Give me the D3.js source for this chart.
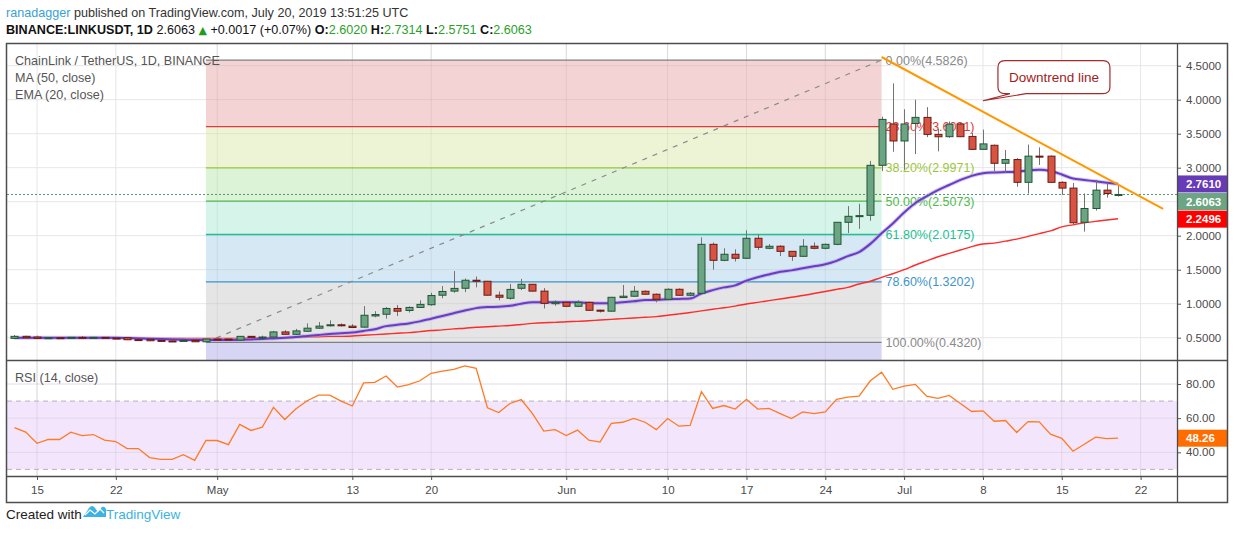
<!DOCTYPE html>
<html><head><meta charset="utf-8">
<script src="https://cdn.jsdelivr.net/npm/d3@7/dist/d3.min.js"></script>
<style>
body{margin:0;background:#fff}
svg{display:block}
text{font-family:"Liberation Sans",Arial,sans-serif}
</style>
</head><body>
<svg id="chart" width="1234" height="540"></svg>
<script>
// ---------------- DATA ----------------
const firstDay = "2019-04-13";
const opens = [
 0.49,0.52,0.51,0.49,0.50,0.495,0.505,0.495,0.505,0.495,0.50,0.472,0.475,0.46,0.452,0.45,0.46,0.44,
 0.48,0.48,0.465,0.52,0.505,0.51,0.585,0.55,0.595,0.64,0.675,0.69,0.67,0.655,0.82,0.845,0.93,0.90,0.945,0.985,1.125,1.185,1.227,1.345,1.33,1.125,1.08,1.227,1.285,1.185,1.0,
 1.02,0.962,1.02,0.905,0.89,1.09,1.11,1.183,1.139,1.065,1.212,1.124,1.153,1.873,1.638,1.727,1.668,1.962,1.815,1.845,1.77,1.697,1.845,1.815,1.873,2.197,2.285,2.30,3.035,3.643,
 3.393,3.65,3.74,3.49,3.456,3.643,3.46,3.27,3.33,3.065,3.12,2.785,3.17,3.17,2.785,2.70,2.197,2.40,2.67,2.602
];
const highs = [
 0.54,0.53,0.53,0.51,0.51,0.51,0.525,0.51,0.51,0.50,0.505,0.48,0.485,0.47,0.46,0.465,0.465,0.485,
 0.485,0.485,0.525,0.525,0.53,0.60,0.61,0.63,0.71,0.73,0.755,0.71,0.70,0.965,0.89,0.95,0.98,0.96,1.05,1.16,1.26,1.48,1.37,1.40,1.335,1.18,1.29,1.365,1.29,1.23,1.05,
 1.03,1.05,1.03,0.91,1.10,1.275,1.26,1.195,1.15,1.225,1.225,1.17,1.976,1.90,1.815,1.80,2.08,2.02,1.875,1.86,1.775,1.95,1.90,1.885,2.20,2.435,2.47,3.10,3.75,4.24,
 3.86,4.00,3.89,3.57,3.68,3.66,3.51,3.56,3.34,3.26,3.14,3.34,3.30,3.18,2.80,2.775,2.62,2.82,2.77,2.7314
];
const lows = [
 0.48,0.50,0.48,0.48,0.49,0.49,0.49,0.49,0.49,0.49,0.465,0.455,0.45,0.445,0.445,0.445,0.435,0.432,
 0.47,0.46,0.46,0.50,0.495,0.50,0.545,0.54,0.585,0.63,0.665,0.665,0.645,0.65,0.80,0.78,0.82,0.87,0.94,0.97,1.08,1.16,1.17,1.24,1.12,1.05,1.06,1.20,1.18,0.93,0.97,
 0.95,0.95,0.90,0.87,0.885,1.085,1.10,1.13,1.02,1.06,1.12,1.11,1.14,1.50,1.625,1.62,1.66,1.79,1.80,1.70,1.63,1.69,1.80,1.80,1.86,2.04,2.10,2.22,2.95,3.235,
 2.97,3.20,3.45,3.24,3.44,3.45,3.26,3.26,2.95,2.92,2.72,2.62,3.04,2.78,2.60,2.16,2.06,2.37,2.56,2.5751
];
const closes = [
 0.52,0.50,0.49,0.50,0.495,0.505,0.495,0.505,0.495,0.492,0.47,0.468,0.455,0.45,0.45,0.46,0.44,0.48,
 0.475,0.465,0.52,0.505,0.51,0.585,0.55,0.60,0.64,0.67,0.69,0.675,0.65,0.83,0.84,0.93,0.89,0.945,0.99,1.12,1.18,1.225,1.345,1.33,1.125,1.095,1.21,1.285,1.185,1.005,1.02,
 0.962,1.02,0.903,0.89,1.094,1.11,1.183,1.139,1.065,1.212,1.124,1.154,1.873,1.638,1.727,1.668,1.962,1.83,1.845,1.77,1.697,1.845,1.815,1.873,2.197,2.285,2.295,3.035,3.71,3.393,
 3.643,3.74,3.49,3.455,3.64,3.456,3.27,3.35,3.065,3.12,2.785,3.17,3.165,2.785,2.70,2.19,2.40,2.67,2.62,2.6063
];
const ema20 = [
 0.50,0.50,0.50,0.50,0.50,0.50,0.50,0.50,0.50,0.50,0.495,0.49,0.485,0.48,0.475,0.47,0.465,0.465,
 0.465,0.465,0.47,0.475,0.48,0.49,0.50,0.51,0.525,0.54,0.555,0.565,0.575,0.60,0.625,0.67,0.69,0.71,0.74,0.78,0.82,0.86,0.90,0.935,0.95,0.955,0.97,1.0,1.02,1.02,1.02,
 1.02,1.02,1.01,1.005,1.01,1.02,1.035,1.055,1.055,1.065,1.07,1.075,1.15,1.20,1.24,1.27,1.34,1.39,1.43,1.47,1.49,1.52,1.55,1.58,1.63,1.70,1.76,1.88,2.035,2.18,
 2.34,2.48,2.58,2.67,2.746,2.82,2.88,2.918,2.93,2.935,2.94,2.96,2.97,2.95,2.90,2.84,2.82,2.80,2.78,2.761
];
const ma50 = [
 0.50,0.50,0.50,0.50,0.50,0.50,0.50,0.50,0.50,0.495,0.495,0.495,0.49,0.49,0.49,0.49,0.49,0.49,
 0.49,0.49,0.49,0.495,0.495,0.50,0.50,0.505,0.51,0.515,0.52,0.52,0.525,0.535,0.545,0.555,0.565,0.575,0.59,0.605,0.615,0.63,0.64,0.653,0.66,0.67,0.68,0.695,0.71,0.72,0.725,
 0.735,0.74,0.75,0.76,0.77,0.78,0.79,0.80,0.81,0.83,0.85,0.87,0.895,0.918,0.94,0.965,0.996,1.02,1.045,1.07,1.094,1.12,1.15,1.18,1.21,1.24,1.29,1.33,1.388,1.44,
 1.50,1.569,1.63,1.69,1.74,1.79,1.84,1.878,1.89,1.92,1.95,1.99,2.03,2.07,2.13,2.16,2.19,2.21,2.23,2.2496
];
const rsi14 = [
 54.5,51.8,45.3,47.5,47.5,51.8,49.8,50.4,47.1,46.3,42.2,42.2,36.9,35.9,35.9,38.6,35.3,46.9,
 46.9,44.5,56.3,52.8,54.7,66.3,59.2,65.5,70.2,73.5,73.5,70.0,67.1,80.6,81.0,84.7,78.2,79.7,81.9,86.3,87.6,88.6,90.6,89.2,66.1,63.3,68.6,70.9,62.7,52.4,53.3,
 49.8,53.0,47.1,46.0,56.9,57.6,59.8,57.6,53.3,59.8,55.3,55.7,75.5,65.7,67.4,65.3,71.0,65.3,65.7,62.7,59.8,63.7,62.7,63.7,71.0,72.3,72.9,81.9,86.9,76.9,
 78.8,79.8,72.9,71.6,73.3,68.6,63.9,64.3,58.2,58.6,51.6,58.0,57.8,50.6,48.2,40.6,44.7,48.9,48.0,48.26
];
const dateTickDays = ["2019-04-15","2019-04-22","2019-05-01","2019-05-13","2019-05-20","2019-06-01","2019-06-10","2019-06-17","2019-06-24","2019-07-01","2019-07-08","2019-07-15","2019-07-22"];
const dateTickLabels = ["15","22","May","13","20","Jun","10","17","24","Jul","8","15","22"];
const priceTicks = [0.5,1.0,1.5,2.0,2.5,3.0,3.5,4.0,4.5];
const rsiTicks = [40,60,80];
const rsiBands = [30,70];
const fibHigh = 4.5826, fibLow = 0.4320;
const fibLevels = [0,0.236,0.382,0.5,0.618,0.786,1];
const fibStartDay = "2019-04-30", fibEndDay = "2019-06-29";
const trendLine = [{day:"2019-06-29", v:4.628},{day:"2019-07-24", v:2.393}];
const calloutTip = {day:"2019-07-08", v:3.985};
const lastPrice = 2.6063;

// ---------------- SETUP ----------------
const svg = d3.select("#chart");
const parse = d3.utcParse("%Y-%m-%d");
const d0 = parse(firstDay);
const dates = closes.map((_,i)=>d3.utcDay.offset(d0,i));
const L = 7, R = 1177, PT = 44, PB = 360, RT = 361, RB = 476;

const x = d3.scaleUtc().domain([parse("2019-04-15"), parse("2019-07-22")]).range([37, 1140.6]);
const y = d3.scaleLinear().domain([0.5,4.5]).range([337.7,65.7]);
const yr = d3.scaleLinear().domain([40,80]).range([452.3,384]);

const defs = svg.append("defs");
defs.append("clipPath").attr("id","cp").append("rect").attr("x",L).attr("y",PT).attr("width",R-L).attr("height",PB-PT);
defs.append("clipPath").attr("id","cr").append("rect").attr("x",L).attr("y",RT).attr("width",R-L).attr("height",RB-RT);

// header
const h1 = svg.append("text").attr("x",6).attr("y",17).attr("font-size",12.6).attr("fill","#333");
h1.append("tspan").attr("fill","#3a9fd8").text("ranadagger");
h1.append("tspan").text(" published on TradingView.com, July 20, 2019 13:51:25 UTC");
const h2 = svg.append("text").attr("x",6).attr("y",34).attr("font-size",12.6).attr("fill","#111");
h2.append("tspan").attr("font-weight","bold").text("BINANCE:LINKUSDT, 1D");
h2.append("tspan").text("  2.6063 ");
h2.append("tspan").attr("fill","#1e9e1e").style("font-family","DejaVu Sans").attr("font-size",11).text("▲");
h2.append("tspan").text(" +0.0017 (+0.07%) ");
[["O:","2.6020"],["H:","2.7314"],["L:","2.5751"],["C:","2.6063"]].forEach(([k,v],i)=>{
  h2.append("tspan").attr("font-weight","bold").text((i?" ":"")+k);
  h2.append("tspan").attr("fill","#2aa02a").text(v);
});

// grid
svg.append("g").selectAll("line").data(priceTicks).join("line")
  .attr("x1",L).attr("x2",R).attr("y1",d=>y(d)).attr("y2",d=>y(d)).attr("stroke","#e6e6e6");
const tickDates = dateTickDays.map(parse);
svg.append("g").selectAll("line").data(tickDates).join("line")
  .attr("x1",d=>x(d)).attr("x2",d=>x(d)).attr("y1",PT).attr("y2",RB).attr("stroke","#e6e6e6");

// ---------------- FIB ----------------
const gF = svg.append("g").attr("clip-path","url(#cp)");
const fx0 = x(parse(fibStartDay)), fx1 = x(parse(fibEndDay));
const fibPrice = l => fibHigh - l*(fibHigh-fibLow);
const fibLineCol = ["#808080","#e0393e","#9cc73c","#4cbb4c","#22bf92","#3d93cc","#808080"];
const fibFill = ["#f3d3d3","#edf4d6","#dcf3d8","#d6f4e9","#d5e8f4","#e5e5e5","#d7d5f4"];
const zones = fibLevels.map((l,i)=>[fibPrice(l), i<fibLevels.length-1 ? fibPrice(fibLevels[i+1]) : -1]);
gF.selectAll("rect").data(zones).join("rect")
  .attr("x",fx0).attr("width",fx1-fx0)
  .attr("y",d=>y(d[0])).attr("height",d=>y(d[1])-y(d[0]))
  .attr("fill",(d,i)=>fibFill[i]);
gF.selectAll("line.gh").data(priceTicks).join("line").attr("class","gh")
  .attr("x1",fx0).attr("x2",fx1).attr("y1",d=>y(d)).attr("y2",d=>y(d)).attr("stroke","rgba(0,0,0,0.06)");
gF.selectAll("line.gv").data(tickDates.filter(d=>x(d)>fx0&&x(d)<fx1)).join("line").attr("class","gv")
  .attr("x1",d=>x(d)).attr("x2",d=>x(d)).attr("y1",PT).attr("y2",PB).attr("stroke","rgba(0,0,0,0.06)");
gF.selectAll("line.fl").data(fibLevels).join("line").attr("class","fl")
  .attr("x1",fx0).attr("x2",fx1).attr("y1",l=>y(fibPrice(l))).attr("y2",l=>y(fibPrice(l)))
  .attr("stroke",(l,i)=>fibLineCol[i]).attr("stroke-width",1.3);
gF.append("line").attr("x1",fx0).attr("y1",y(fibLow)).attr("x2",fx1).attr("y2",y(fibHigh))
  .attr("stroke","#8a8a8a").attr("stroke-width",1.2).attr("stroke-dasharray","5,6");
const fibTextCol = ["#8a8a8a","#e0393e","#9cc73c","#4cbb4c","#22bf92","#3d93cc","#8a8a8a"];
gF.selectAll("text").data(fibLevels).join("text")
  .attr("x",fx1+4).attr("y",l=>y(fibPrice(l))+4.5).attr("font-size",12.5)
  .attr("fill",(l,i)=>fibTextCol[i])
  .text(l=>`${(l*100).toFixed(2)}%(${fibPrice(l).toFixed(4)})`);

// ---------------- MA lines ----------------
const gM = svg.append("g").attr("clip-path","url(#cp)");
const line = arr => d3.line().x((d,i)=>x(dates[i])).y(d=>y(d)).curve(d3.curveMonotoneX)(arr);
gM.append("path").attr("d",line(ma50)).attr("fill","none").attr("stroke","#ff2a2a").attr("stroke-width",1.4);
gM.append("path").attr("d",line(ema20)).attr("fill","none").attr("stroke","#b6a3ea").attr("stroke-width",4).attr("opacity",0.6);
gM.append("path").attr("d",line(ema20)).attr("fill","none").attr("stroke","#6a3cc0").attr("stroke-width",2);
gM.append("line").attr("x1",L).attr("x2",R).attr("y1",y(lastPrice)).attr("y2",y(lastPrice))
  .attr("stroke","#4f9a6e").attr("stroke-dasharray","2,2").attr("stroke-width",1);

// ---------------- CANDLES ----------------
const gC = svg.append("g").attr("clip-path","url(#cp)");
const idx = d3.range(closes.length);
gC.selectAll("line").data(idx).join("line")
  .attr("x1",i=>Math.round(x(dates[i]))+0.5).attr("x2",i=>Math.round(x(dates[i]))+0.5)
  .attr("y1",i=>y(highs[i])).attr("y2",i=>y(lows[i])).attr("stroke","#737375").attr("stroke-width",1);
const bw = 7;
gC.selectAll("rect").data(idx).join("rect")
  .attr("x",i=>Math.round(x(dates[i]))+0.5-bw/2).attr("width",bw)
  .attr("y",i=>y(Math.max(opens[i],closes[i])))
  .attr("height",i=>Math.max(1,Math.abs(y(opens[i])-y(closes[i]))))
  .attr("fill",i=>closes[i]>=opens[i]?"#6ba583":"#d75442")
  .attr("stroke",i=>closes[i]>=opens[i]?"#225437":"#6b1a13").attr("stroke-width",1);

// ---------------- TREND LINE + CALLOUT ----------------
svg.append("line").attr("clip-path","url(#cp)")
  .attr("x1",x(parse(trendLine[0].day))).attr("y1",y(trendLine[0].v))
  .attr("x2",x(parse(trendLine[1].day))).attr("y2",y(trendLine[1].v))
  .attr("stroke","#ff9800").attr("stroke-width",2);
const tx = x(parse(calloutTip.day)), ty = y(calloutTip.v);
const bx0 = tx+15, by0 = ty-40, bwid = 112, bh = 33, r = 7;
const cp = `M${bx0+r},${by0} H${bx0+bwid-r} Q${bx0+bwid},${by0} ${bx0+bwid},${by0+r} V${by0+bh-r} Q${bx0+bwid},${by0+bh} ${bx0+bwid-r},${by0+bh} H${bx0+28} L${tx},${ty} L${bx0+12},${by0+bh} H${bx0+r} Q${bx0},${by0+bh} ${bx0},${by0+bh-r} V${by0+r} Q${bx0},${by0} ${bx0+r},${by0} Z`;
svg.append("path").attr("d",cp).attr("fill","#fff").attr("stroke","#a52a2a").attr("stroke-width",1.2);
svg.append("text").attr("x",bx0+bwid/2).attr("y",by0+bh/2+5).attr("text-anchor","middle")
  .attr("font-size",13.5).attr("fill","#a01c22").text("Downtrend line");

// legend
const lg = svg.append("g").attr("font-size",12.6).attr("fill","#555");
lg.append("text").attr("x",15).attr("y",65).text("ChainLink / TetherUS, 1D, BINANCE");
lg.append("text").attr("x",15).attr("y",82).text("MA (50, close)");
lg.append("text").attr("x",15).attr("y",99).text("EMA (20, close)");

// ---------------- RSI ----------------
const gR = svg.append("g").attr("clip-path","url(#cr)");
gR.append("rect").attr("x",L).attr("width",R-L).attr("y",yr(rsiBands[1])).attr("height",yr(rsiBands[0])-yr(rsiBands[1])).attr("fill","#f3e6fc");
gR.selectAll("line.g").data(rsiTicks).join("line").attr("class","g")
  .attr("x1",L).attr("x2",R).attr("y1",d=>yr(d)).attr("y2",d=>yr(d)).attr("stroke","#e2d8ea");
gR.selectAll("line.v").data(tickDates).join("line").attr("class","v")
  .attr("x1",d=>x(d)).attr("x2",d=>x(d)).attr("y1",RT).attr("y2",RB).attr("stroke","rgba(0,0,0,0.07)");
gR.selectAll("line.b").data(rsiBands).join("line").attr("class","b")
  .attr("x1",L).attr("x2",R).attr("y1",d=>yr(d)).attr("y2",d=>yr(d))
  .attr("stroke","#b9adc2").attr("stroke-dasharray","5,4");
gR.append("path").attr("d",d3.line().x((d,i)=>x(dates[i])).y(d=>yr(d))(rsi14))
  .attr("fill","none").attr("stroke","#ff7a22").attr("stroke-width",1.3);
svg.append("text").attr("x",15).attr("y",382).attr("font-size",12.6).attr("fill","#555").text("RSI (14, close)");

// ---------------- AXES ----------------
const axisStyle = g => {
  g.select(".domain").remove();
  g.selectAll(".tick line").attr("stroke","#555");
  g.selectAll(".tick text").attr("fill","#4a4a4a").attr("font-size",11.5).attr("font-family","Liberation Sans, Arial, sans-serif");
};
svg.append("g").attr("transform",`translate(${R},0)`)
  .call(d3.axisRight(y).tickValues(priceTicks).tickFormat(d3.format(".4f")).tickSize(4).tickPadding(5))
  .call(axisStyle);
svg.append("g").attr("transform",`translate(${R},0)`)
  .call(d3.axisRight(yr).tickValues(rsiTicks).tickFormat(d3.format(".2f")).tickSize(4).tickPadding(5))
  .call(axisStyle);
svg.append("g").attr("transform",`translate(0,${RB})`)
  .call(d3.axisBottom(x).tickValues(tickDates).tickFormat((d,i)=>dateTickLabels[i]).tickSize(4).tickPadding(6))
  .call(axisStyle);

// right-side value labels (pushed apart so they never overlap)
const tagH = 17;
const priceTags = [
  {v:ema20[ema20.length-1], txt:"2.7610", col:"#673ab7"},
  {v:lastPrice, txt:"2.6063", col:"#6ba583"},
  {v:ma50[ma50.length-1], txt:"2.2496", col:"#ff0000"}
].map(t=>({...t, cy:y(t.v)})).sort((a,b)=>a.cy-b.cy);
for(let i=1;i<priceTags.length;i++){
  const minCy = priceTags[i-1].cy + tagH + 0.6;
  if(priceTags[i].cy < minCy) priceTags[i].cy = minCy;
}
const allTags = priceTags.concat([{v:rsi14[rsi14.length-1], txt:"48.26", col:"#ff6d00", cy:yr(rsi14[rsi14.length-1])}]);
const gt = svg.append("g");
allTags.forEach(t=>{
  gt.append("rect").attr("x",R).attr("y",t.cy-tagH/2).attr("width",50).attr("height",tagH).attr("fill",t.col);
  gt.append("text").attr("x",R+9).attr("y",t.cy+4.2).attr("font-size",11.5).attr("font-weight","bold").attr("fill","#fff").text(t.txt);
});

// frame and separators
const gb = svg.append("g").attr("stroke","#4d4d4d").attr("fill","none");
gb.append("rect").attr("x",6.5).attr("y",43.5).attr("width",1221).attr("height",459).attr("stroke-width",1.5);
gb.append("line").attr("x1",6.5).attr("x2",1227.5).attr("y1",PB+0.5).attr("y2",PB+0.5).attr("stroke-width",1.3);
gb.append("line").attr("x1",6.5).attr("x2",1227.5).attr("y1",RB+0.5).attr("y2",RB+0.5).attr("stroke-width",1.3);
gb.append("line").attr("x1",R+0.5).attr("x2",R+0.5).attr("y1",43.5).attr("y2",502.5).attr("stroke-width",1.3);

// footer
const ft = svg.append("g");
ft.append("text").attr("x",6).attr("y",519).attr("font-size",13.5).attr("fill","#222").text("Created with");
ft.append("path").attr("d","M83,517 L89,508 Q92,504 95,508 L98,512 L101,508 Q104,505 106,509 L106,517 Z").attr("fill","#3bb3e4");
ft.append("path").attr("d","M85,515 L90,510 L95,514 L100,509 L104,513").attr("fill","none").attr("stroke","#fff").attr("stroke-width",1.3);
ft.append("text").attr("x",106).attr("y",519).attr("font-size",13.5).attr("fill","#3bb3e4").text("TradingView");
</script>
</body></html>
